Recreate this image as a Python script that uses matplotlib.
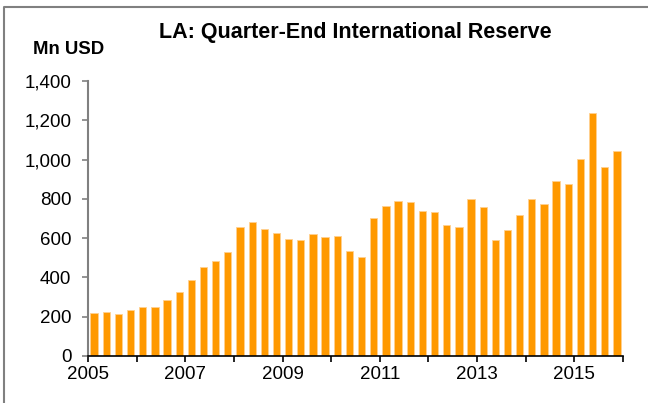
import matplotlib.pyplot as plt
import numpy as np
from matplotlib.lines import Line2D

plt.rcParams['font.family'] = ['Liberation Sans', 'DejaVu Sans']

# quarter-end reserves, 2005Q1 .. 2015Q4
reserves = [217, 224, 215, 234, 248, 251, 287, 327,
            387, 453, 483, 529, 658, 682, 648, 626,
            594, 590, 623, 607, 611, 533, 505, 701,
            762, 789, 786, 738, 735, 665, 656, 797,
            758, 589, 640, 718, 801, 774, 893, 874,
            1001, 1235, 960, 1042]
start_year = 2005
year_ticks = list(range(2005, 2017))
year_labels = [str(y) if (y - 2005) % 2 == 0 and y < 2016 else '' for y in year_ticks]

W, H = 648, 403
fig = plt.figure(figsize=(W / 100, H / 100), dpi=100)
ax = fig.add_axes([88 / W, 1 - 356 / H, (623 - 88) / W, (356 - 81) / H])

x = start_year + (np.arange(len(reserves)) + 0.5) / 4
ax.bar(x, reserves, width=0.15, color='#FF9900', edgecolor='#FFD090', linewidth=0.6)

ax.set_xlim(2005, 2016)
ax.set_ylim(0, 1400)
ax.set_yticks(range(0, 1401, 200))
ax.set_yticklabels([f'{v:,}' for v in range(0, 1401, 200)])
ax.set_xticks(year_ticks)
ax.set_xticklabels(year_labels)

ax.spines['top'].set_visible(False)
ax.spines['right'].set_visible(False)
ax.spines['left'].set_color('#808080')
ax.spines['left'].set_linewidth(1.5)
ax.spines['bottom'].set_color('black')
ax.spines['bottom'].set_linewidth(1.2)
ax.tick_params(axis='y', direction='out', length=4.5, color='#808080', width=1.2,
               labelsize=13.5, pad=7.5)
ax.tick_params(axis='x', direction='out', length=4, color='black', width=1.2,
               labelsize=13.5, pad=3)

fig.text(159 / W, 1 - 38 / H, 'LA: Quarter-End International Reserve',
         ha='left', va='baseline', fontsize=15.5, fontweight='bold')
fig.text(33 / W, 1 - 54 / H, 'Mn USD', ha='left', va='baseline',
         fontsize=13.4, fontweight='bold')

# outer frame (left and top edges visible)
fig.add_artist(Line2D([4 / W, 4 / W, 1], [0, 1 - 7 / H, 1 - 7 / H],
                      transform=fig.transFigure, color='#808080', lw=1.5))

fig.savefig('out.png', dpi=100)
